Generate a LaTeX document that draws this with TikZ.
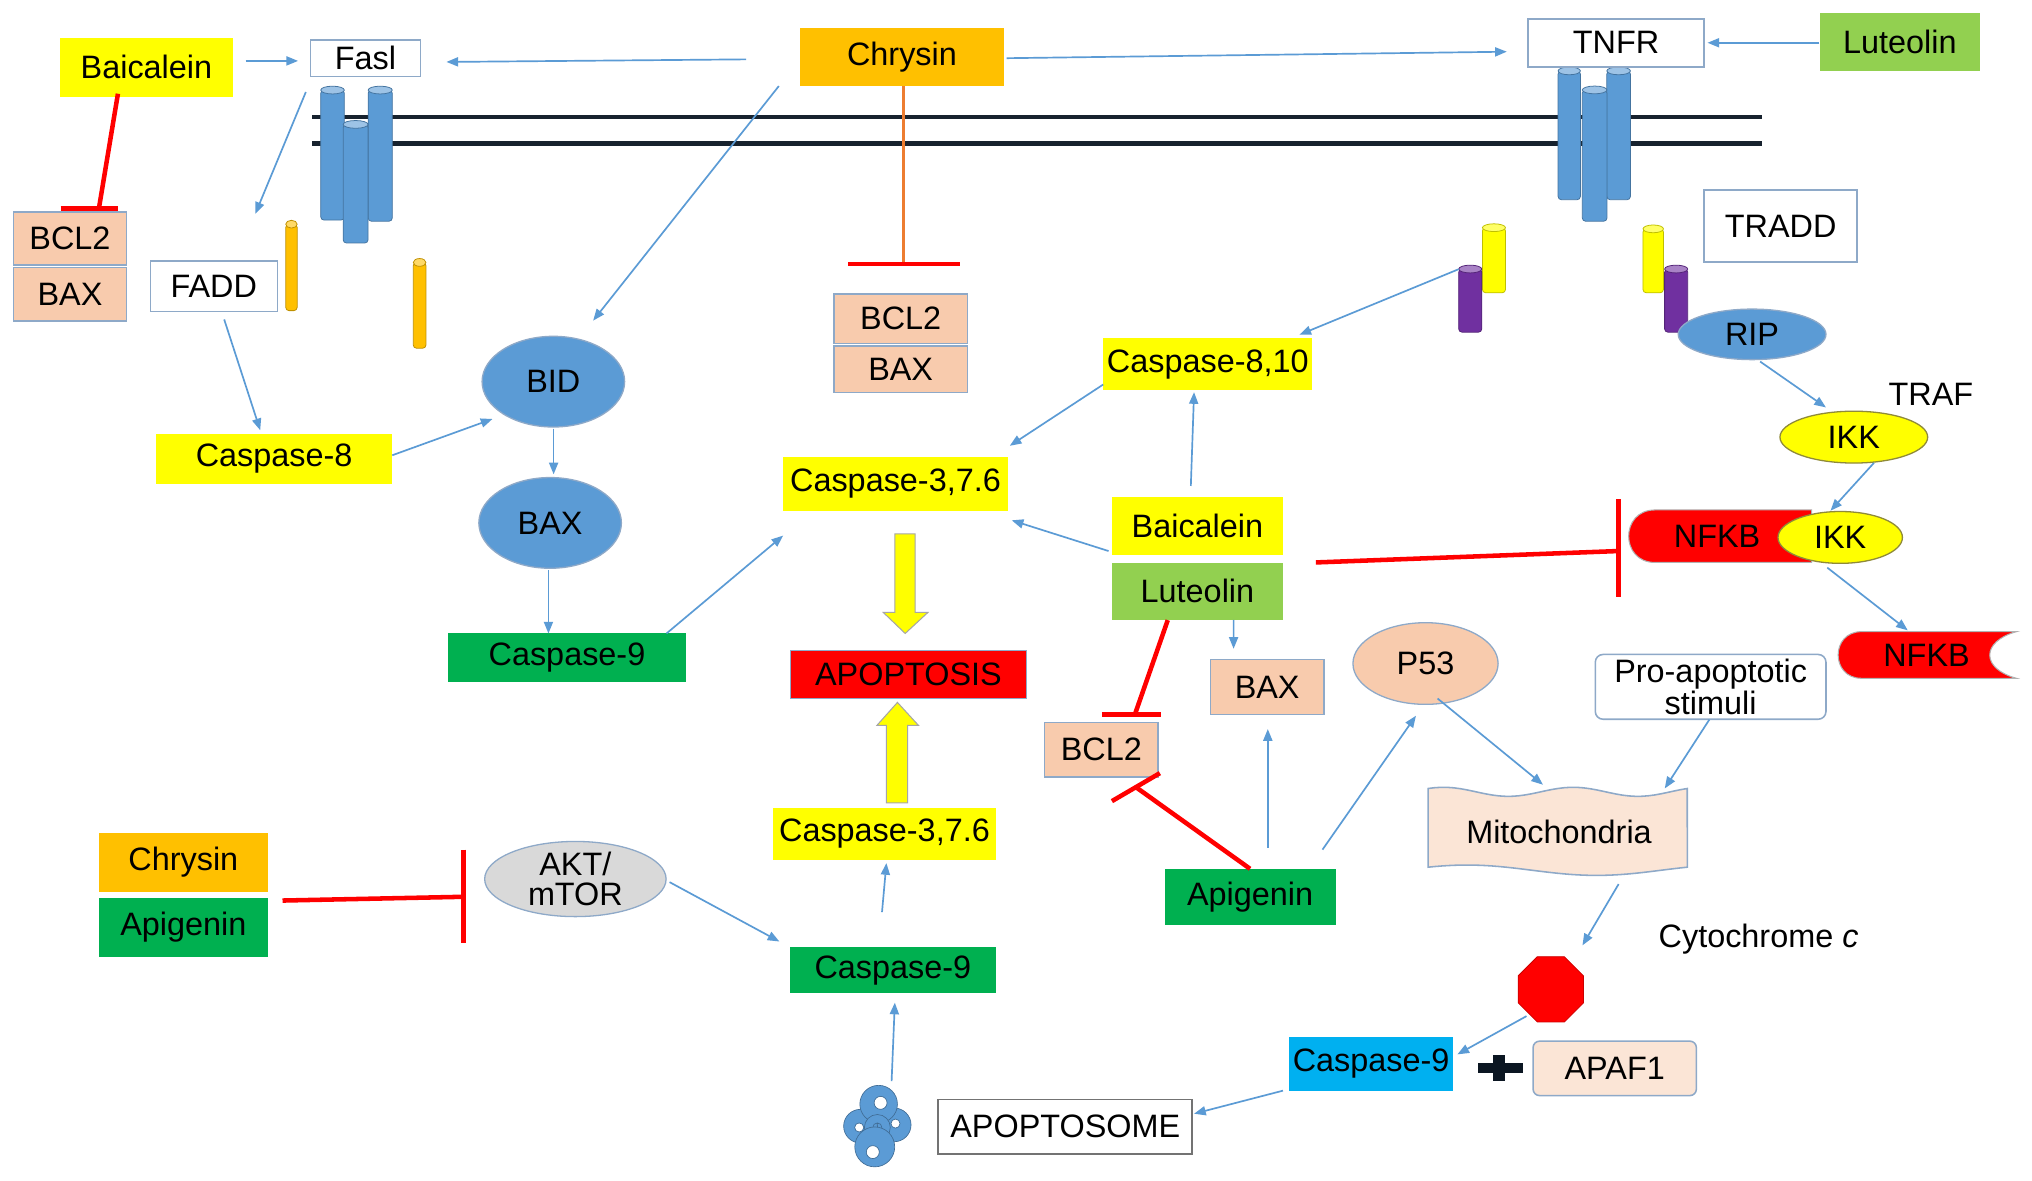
\documentclass[tikz,border=0pt]{standalone}
\usepackage{fontspec}
\setmainfont{Liberation Sans}
\usetikzlibrary{arrows.meta,shapes.geometric}
\definecolor{cyel}{HTML}{FFFF00}
\definecolor{cora}{HTML}{FFC000}
\definecolor{clgr}{HTML}{92D050}
\definecolor{cgrn}{HTML}{00B050}
\definecolor{cpch}{HTML}{F8CBAD}
\definecolor{cpchl}{HTML}{FBE5D6}
\definecolor{cblu}{HTML}{5B9BD5}
\definecolor{ccyan}{HTML}{00B0F0}
\definecolor{cred}{HTML}{FF0000}
\definecolor{cgry}{HTML}{D9D9D9}
\definecolor{cbrd}{HTML}{8EA9C8}
\definecolor{cpur}{HTML}{7030A0}
\definecolor{cmem}{HTML}{17222E}
\definecolor{corl}{HTML}{ED7D31}
\definecolor{cplus}{HTML}{0B1622}
\newcommand\fsz{\fontsize{25}{23}\selectfont}
\newcommand\mycyl[5]{%
 \filldraw[fill=#5,draw=#5!75!black,line width=.6pt,rounded corners=2.5pt] ({#1-#2},#3) rectangle ({#1+#2},#4);
 \filldraw[fill=#5!60!white,draw=#5!75!black,line width=.6pt] (#1,#3) ellipse (#2pt and 3pt);}
\tikzset{
 base/.style={inner sep=0pt,outer sep=0pt,font=\fsz,align=center,text=black},
 sz/.style 2 args={minimum width=#1pt,minimum height=#2pt},
 ybox/.style={base,fill=cyel},
 obox/.style={base,fill=cora},
 lbox/.style={base,fill=clgr},
 gbox/.style={base,fill=cgrn},
 pbox/.style={base,fill=cpch,draw=cbrd,line width=1.2pt},
 wbox/.style={base,fill=white,draw=cbrd,line width=1.2pt},
 ell/.style={base,ellipse,draw=cbrd,line width=1pt},
 arr/.style={draw=cblu,line width=1.3pt,-{Triangle[length=9pt,width=7pt]}},
 inh/.style={draw=cred,line width=3.5pt},
}
\begin{document}
\begin{tikzpicture}[x=1pt,y=-1pt]
\fill[white] (0,0) rectangle (1568,910.6);
\useasboundingbox (0,0) rectangle (1568,910.6);
% membrane
\draw[cmem,line width=3.2pt] (241,90) -- (1359.7,90);
\draw[cmem,line width=3.2pt] (241,110.7) -- (1359.7,110.7);
% receptor cylinders
\mycyl{256.6}{9.1}{69.5}{169.8}{cblu}
\mycyl{293.4}{9.3}{69.5}{170.7}{cblu}
\mycyl{274.4}{9.6}{96}{187.5}{cblu}
\mycyl{1210.9}{8.6}{54.7}{154.1}{cblu}
\mycyl{1249}{9.1}{54.7}{154.1}{cblu}
\mycyl{1230.5}{9.5}{69.4}{170.7}{cblu}
\mycyl{224.9}{4.4}{173}{239.7}{cora}
\mycyl{323.8}{4.9}{202.5}{268.7}{cora}
\mycyl{1152.8}{8.9}{175.7}{225.9}{cyel}
\mycyl{1134.5}{8.9}{207.6}{256.3}{cpur}
\mycyl{1275.7}{7.9}{176.6}{225.9}{cyel}
\mycyl{1293.4}{8.9}{207.6}{256.3}{cpur}
\coordinate (pur1) at (1134.5,231.5);
% top row
\node[ybox,sz={133}{46}] (bai1) at (113,52) {Baicalein};
\node[wbox,sz={85}{28}] (fasl) at (282,45) {Fasl};
\node[obox,sz={157}{45}] (chry1) at (696,44) {Chrysin};
\node[wbox,sz={136}{37}] (tnfr) at (1247,33) {TNFR};
\node[lbox,sz={123}{45}] (lut1) at (1466,32.5) {Luteolin};
% left column
\node[pbox,sz={87}{41}] (bcl2a) at (54,184) {BCL2};
\node[pbox,sz={87}{41}] (baxa) at (54,227) {BAX};
\node[wbox,sz={98}{39}] (fadd) at (165,221) {FADD};
\node[ybox,sz={182}{38.5}] (cas8) at (211.5,354) {Caspase-8};
\node[ell,fill=cblu,sz={110}{70}] (bid) at (427,294.5) {BID};
\node[ell,fill=cblu,sz={110}{70}] (baxe) at (424.5,403.5) {BAX};
\node[gbox,sz={183}{38}] (cas9a) at (437.5,507.5) {Caspase-9};
% centre column
\node[pbox,sz={103}{38}] (bcl2b) at (695,246) {BCL2};
\node[pbox,sz={103}{36}] (baxb) at (695,285) {BAX};
\node[ybox,sz={174}{41.5}] (cas3a) at (691,373.5) {Caspase-3,7.6};
\node[base,fill=cred,draw=cbrd,line width=1pt,sz={182}{37}] (apop) at (701,520.5) {APOPTOSIS};
\node[ybox,sz={172}{40.4}] (cas3b) at (682.5,643.4) {Caspase-3,7.6};
\node[gbox,sz={159}{35.4}] (cas9b) at (689,748.7) {Caspase-9};
\node[ell,fill=cgry,sz={140}{58}] (akt) at (444,678.3) {};
\node[base] (akttx) at (444,678.3) {AKT/\\mTOR};
\node[obox,sz={130}{45}] (chry2) at (141.5,665.6) {Chrysin};
\node[gbox,sz={130}{45.7}] (api2) at (141.5,715.5) {Apigenin};
\node[wbox,draw=black!55,sz={196}{42}] (apsbox) at (822,869.4) {APOPTOSOME};
% block arrows
\filldraw[fill=cyel,draw=gray!70,line width=.8pt] (690.5,412) -- (706.2,412) -- (706.2,472.6) -- (716,472.6) -- (698.5,488.8) -- (681.6,472.6) -- (690.5,472.6) -- cycle;
\filldraw[fill=cyel,draw=gray!70,line width=.8pt] (684,619.6) -- (700.3,619.6) -- (700.3,559.7) -- (708.7,559.7) -- (692.5,542) -- (676.7,559.7) -- (684,559.7) -- cycle;
% apoptosome icon
\coordinate (apsome) at (676.6,869);
\begin{scope}[fill=cblu,draw=cblu!70!black,line width=.5pt,even odd rule]
\filldraw (664,869) circle (13pt) (663,870) circle (3.5pt);
\filldraw (690,868) circle (13pt) (691,867) circle (3.5pt);
\filldraw (678,852) circle (14.5pt) (679.5,851) circle (5pt);
\filldraw (677,870) circle (10pt) (677,870) circle (3.5pt);
\filldraw (675,885) circle (15.4pt) (673.5,889) circle (5pt);
\end{scope}
% right-centre
\node[ybox,sz={161.5}{40}] (cas810) at (932,281) {Caspase-8,10};
\node[ybox,sz={132}{45}] (bai2) at (924,405.7) {Baicalein};
\node[lbox,sz={132}{44.5}] (lut2) at (924,456.3) {Luteolin};
\node[pbox,sz={87.4}{42.5}] (baxc) at (977.8,530.2) {BAX};
\node[pbox,sz={87.4}{42.3}] (bcl2c) at (849.8,578.5) {BCL2};
\node[gbox,sz={132}{43.7}] (api3) at (964.6,692.3) {Apigenin};
\node[ell,fill=cpch,sz={112}{63}] (p53) at (1100,512) {P53};
\node[wbox,rounded corners=6pt,sz={178}{50}] (pro) at (1320,530) {Pro-apoptotic\\stimuli};
\filldraw[fill=cpchl,draw=cbrd,line width=1.2pt] plot[domain=0:1,samples=41] ({1102+200*\x},{611-3.5*cos(720*\x-43)}) -- plot[domain=1:0,samples=41] ({1102+200*\x},{671.5-4*cos(360*\x-54)}) -- cycle;
\node[base] (mito) at (1203,642) {Mitochondria};
\node[base] (cytc) at (1357,725) {Cytochrome \textit{c}};
\node[regular polygon,regular polygon sides=8,fill=cred,draw=red!80!black,line width=.6pt,minimum size=54.5pt,inner sep=0pt] (octa) at (1196.7,763.4) {};
\node[base,fill=ccyan,sz={126}{41.3}] (cas9c) at (1058,821) {Caspase-9};
\fill[cplus] (1140.5,820.4) rectangle (1175,827.7);
\fill[cplus] (1152,814) rectangle (1161,834);
\node[pbox,fill=cpchl,rounded corners=5pt,sz={126}{42}] (apaf) at (1246,824.4) {APAF1};
% far right
\node[wbox,sz={118}{55.5}] (tradd) at (1374,174.5) {TRADD};
\node[ell,fill=cblu,sz={114}{39}] (rip) at (1352,258) {RIP};
\node[base] (traf) at (1490,304) {TRAF};
\node[ell,fill=cyel,draw=olive!60!gray,sz={114}{40}] (ikk1) at (1430.5,337.3) {IKK};
\filldraw[fill=cred,draw=gray!60,line width=.8pt] (1277,393.5) -- (1398,393.5) -- (1398,434) -- (1277,434) .. controls (1250,434) and (1250,393.5) .. (1277,393.5) -- cycle;
\node[base] (nfkb1) at (1325,414) {NFKB};
\node[ell,fill=cyel,draw=olive!60!gray,sz={96}{40}] (ikk2) at (1420,414.7) {IKK};
\filldraw[fill=cred,draw=gray!60,line width=.8pt] (1436.4,487.4) -- (1556,487.4) .. controls (1528.5,495) and (1528.5,516) .. (1556,523.4) -- (1436.4,523.4) .. controls (1412.4,523.4) and (1412.4,487.4) .. (1436.4,487.4) -- cycle;
\node[base] (nfkb2) at (1486.6,505.4) {NFKB};
% activation arrows
\draw[arr] ([shift={(76.5,-5)}]bai1.center) -- ([shift={(-52,2)}]fasl.center);
\draw[arr] ([shift={(-120.2,1.8)}]chry1.center) -- ([shift={(62.5,2.8)}]fasl.center);
\draw[arr] ([shift={(-46,26)}]fasl.center) -- ([shift={(32,-56)}]fadd.center);
\draw[arr] ([shift={(-95,22.4)}]chry1.center) -- ([shift={(30.7,-47.1)}]bid.center);
\draw[arr] ([shift={(8,25.5)}]fadd.center) -- ([shift={(-10.7,-22)}]cas8.center);
\draw[arr] ([shift={(91.2,-2.7)}]cas8.center) -- ([shift={(-47,28.8)}]bid.center);
\draw[arr] ([shift={(0.2,36.2)}]bid.center) -- ([shift={(2.7,-37.5)}]baxe.center);
\draw[arr] ([shift={(-1.3,36.5)}]baxe.center) -- ([shift={(-14.3,-18.7)}]cas9a.center);
\draw[arr] ([shift={(76.8,-18.7)}]cas9a.center) -- ([shift={(-86.7,39.8)}]cas3a.center);
\draw[arr] ([shift={(80.7,0.9)}]chry1.center) -- ([shift={(-84.3,6.9)}]tnfr.center);
\draw[arr] ([shift={(-62.1,0.5)}]lut1.center) -- ([shift={(70.6,0)}]tnfr.center);
\draw[arr] ([shift={(-8.9,-23.8)}]pur1) -- ([shift={(70.7,-22.7)}]cas810.center);
\draw[arr] ([shift={(-80.7,15.7)}]cas810.center) -- ([shift={(88.2,-29.5)}]cas3a.center);
\draw[arr] ([shift={(-5.1,-30.7)}]bai2.center) -- ([shift={(-10.6,21.6)}]cas810.center);
\draw[arr] ([shift={(-68.6,19.5)}]bai2.center) -- ([shift={(89.7,28)}]cas3a.center);
\draw[arr] ([shift={(27.9,22)}]lut2.center) -- ([shift={(-25.9,-29.6)}]baxc.center);
\draw[arr] ([shift={(13.7,-38.1)}]api3.center) -- ([shift={(0.5,32.4)}]baxc.center);
\draw[arr] ([shift={(55.9,-36.7)}]api3.center) -- ([shift={(-7.4,40.3)}]p53.center);
\draw[arr] ([shift={(9.3,27)}]p53.center) -- ([shift={(-12.4,-36.5)}]mito.center);
\draw[arr] ([shift={(-1,25.3)}]pro.center) -- ([shift={(81.6,-33.6)}]mito.center);
\draw[arr] ([shift={(46,40.2)}]mito.center) -- ([shift={(24.4,-33.9)}]octa.center);
\draw[arr] ([shift={(-18.8,20.7)}]octa.center) -- ([shift={(66.6,-7.4)}]cas9c.center);
\draw[arr] ([shift={(-68,20.6)}]cas9c.center) -- ([shift={(99.4,-10)}]apsbox.center);
\draw[arr] ([shift={(11.4,-34.7)}]apsome) -- ([shift={(1.5,25)}]cas9b.center);
\draw[arr] ([shift={(-8.4,-44.9)}]cas9b.center) -- ([shift={(1.5,22.6)}]cas3b.center);
\draw[arr] ([shift={(72.7,2.4)}]akt.center) -- ([shift={(-87.6,-22.2)}]cas9b.center);
\draw[arr] ([shift={(6.2,21)}]rip.center) -- ([shift={(-21.5,-22.9)}]ikk1.center);
\draw[arr] ([shift={(15.5,19.9)}]ikk1.center) -- ([shift={(-7.5,-20.6)}]ikk2.center);
\draw[arr] ([shift={(-10,23.3)}]ikk2.center) -- ([shift={(-14.5,-19)}]nfkb2.center);
% inhibitions
\draw[inh] ([shift={(-22,20.3)}]bai1.center) -- ([shift={(22.3,-23)}]bcl2a.center);
\draw[inh] ([shift={(-7.2,-23)}]bcl2a.center) -- ([shift={(37,-23)}]bcl2a.center);
\draw[corl,line width=2.2pt] ([shift={(1.3,22.4)}]chry1.center) -- ([shift={(2.3,-42.3)}]bcl2b.center);
\draw[inh] ([shift={(-40.5,-42.3)}]bcl2b.center) -- ([shift={(45.6,-42.3)}]bcl2b.center);
\draw[inh] ([shift={(-22.9,22.2)}]lut2.center) -- ([shift={(25.9,-27.1)}]bcl2c.center);
\draw[inh] ([shift={(0.5,-27.1)}]bcl2c.center) -- ([shift={(46.2,-27.1)}]bcl2c.center);
\draw[inh] ([shift={(0,-21.9)}]api3.center) -- ([shift={(26.7,28.9)}]bcl2c.center);
\draw[inh] ([shift={(8.2,39.7)}]bcl2c.center) -- ([shift={(45.2,18.1)}]bcl2c.center);
\draw[inh] ([shift={(76.5,-20.6)}]api2.center) -- ([shift={(-86.2,13.7)}]akt.center);
\draw[inh] ([shift={(-86.2,-22.7)}]akt.center) -- ([shift={(-86.2,49.1)}]akt.center);
\draw[inh] ([shift={(91.4,-22.3)}]lut2.center) -- ([shift={(-76,11.2)}]nfkb1.center);
\draw[inh] ([shift={(-76,-28.7)}]nfkb1.center) -- ([shift={(-76,46.6)}]nfkb1.center);
\end{tikzpicture}
\end{document}
